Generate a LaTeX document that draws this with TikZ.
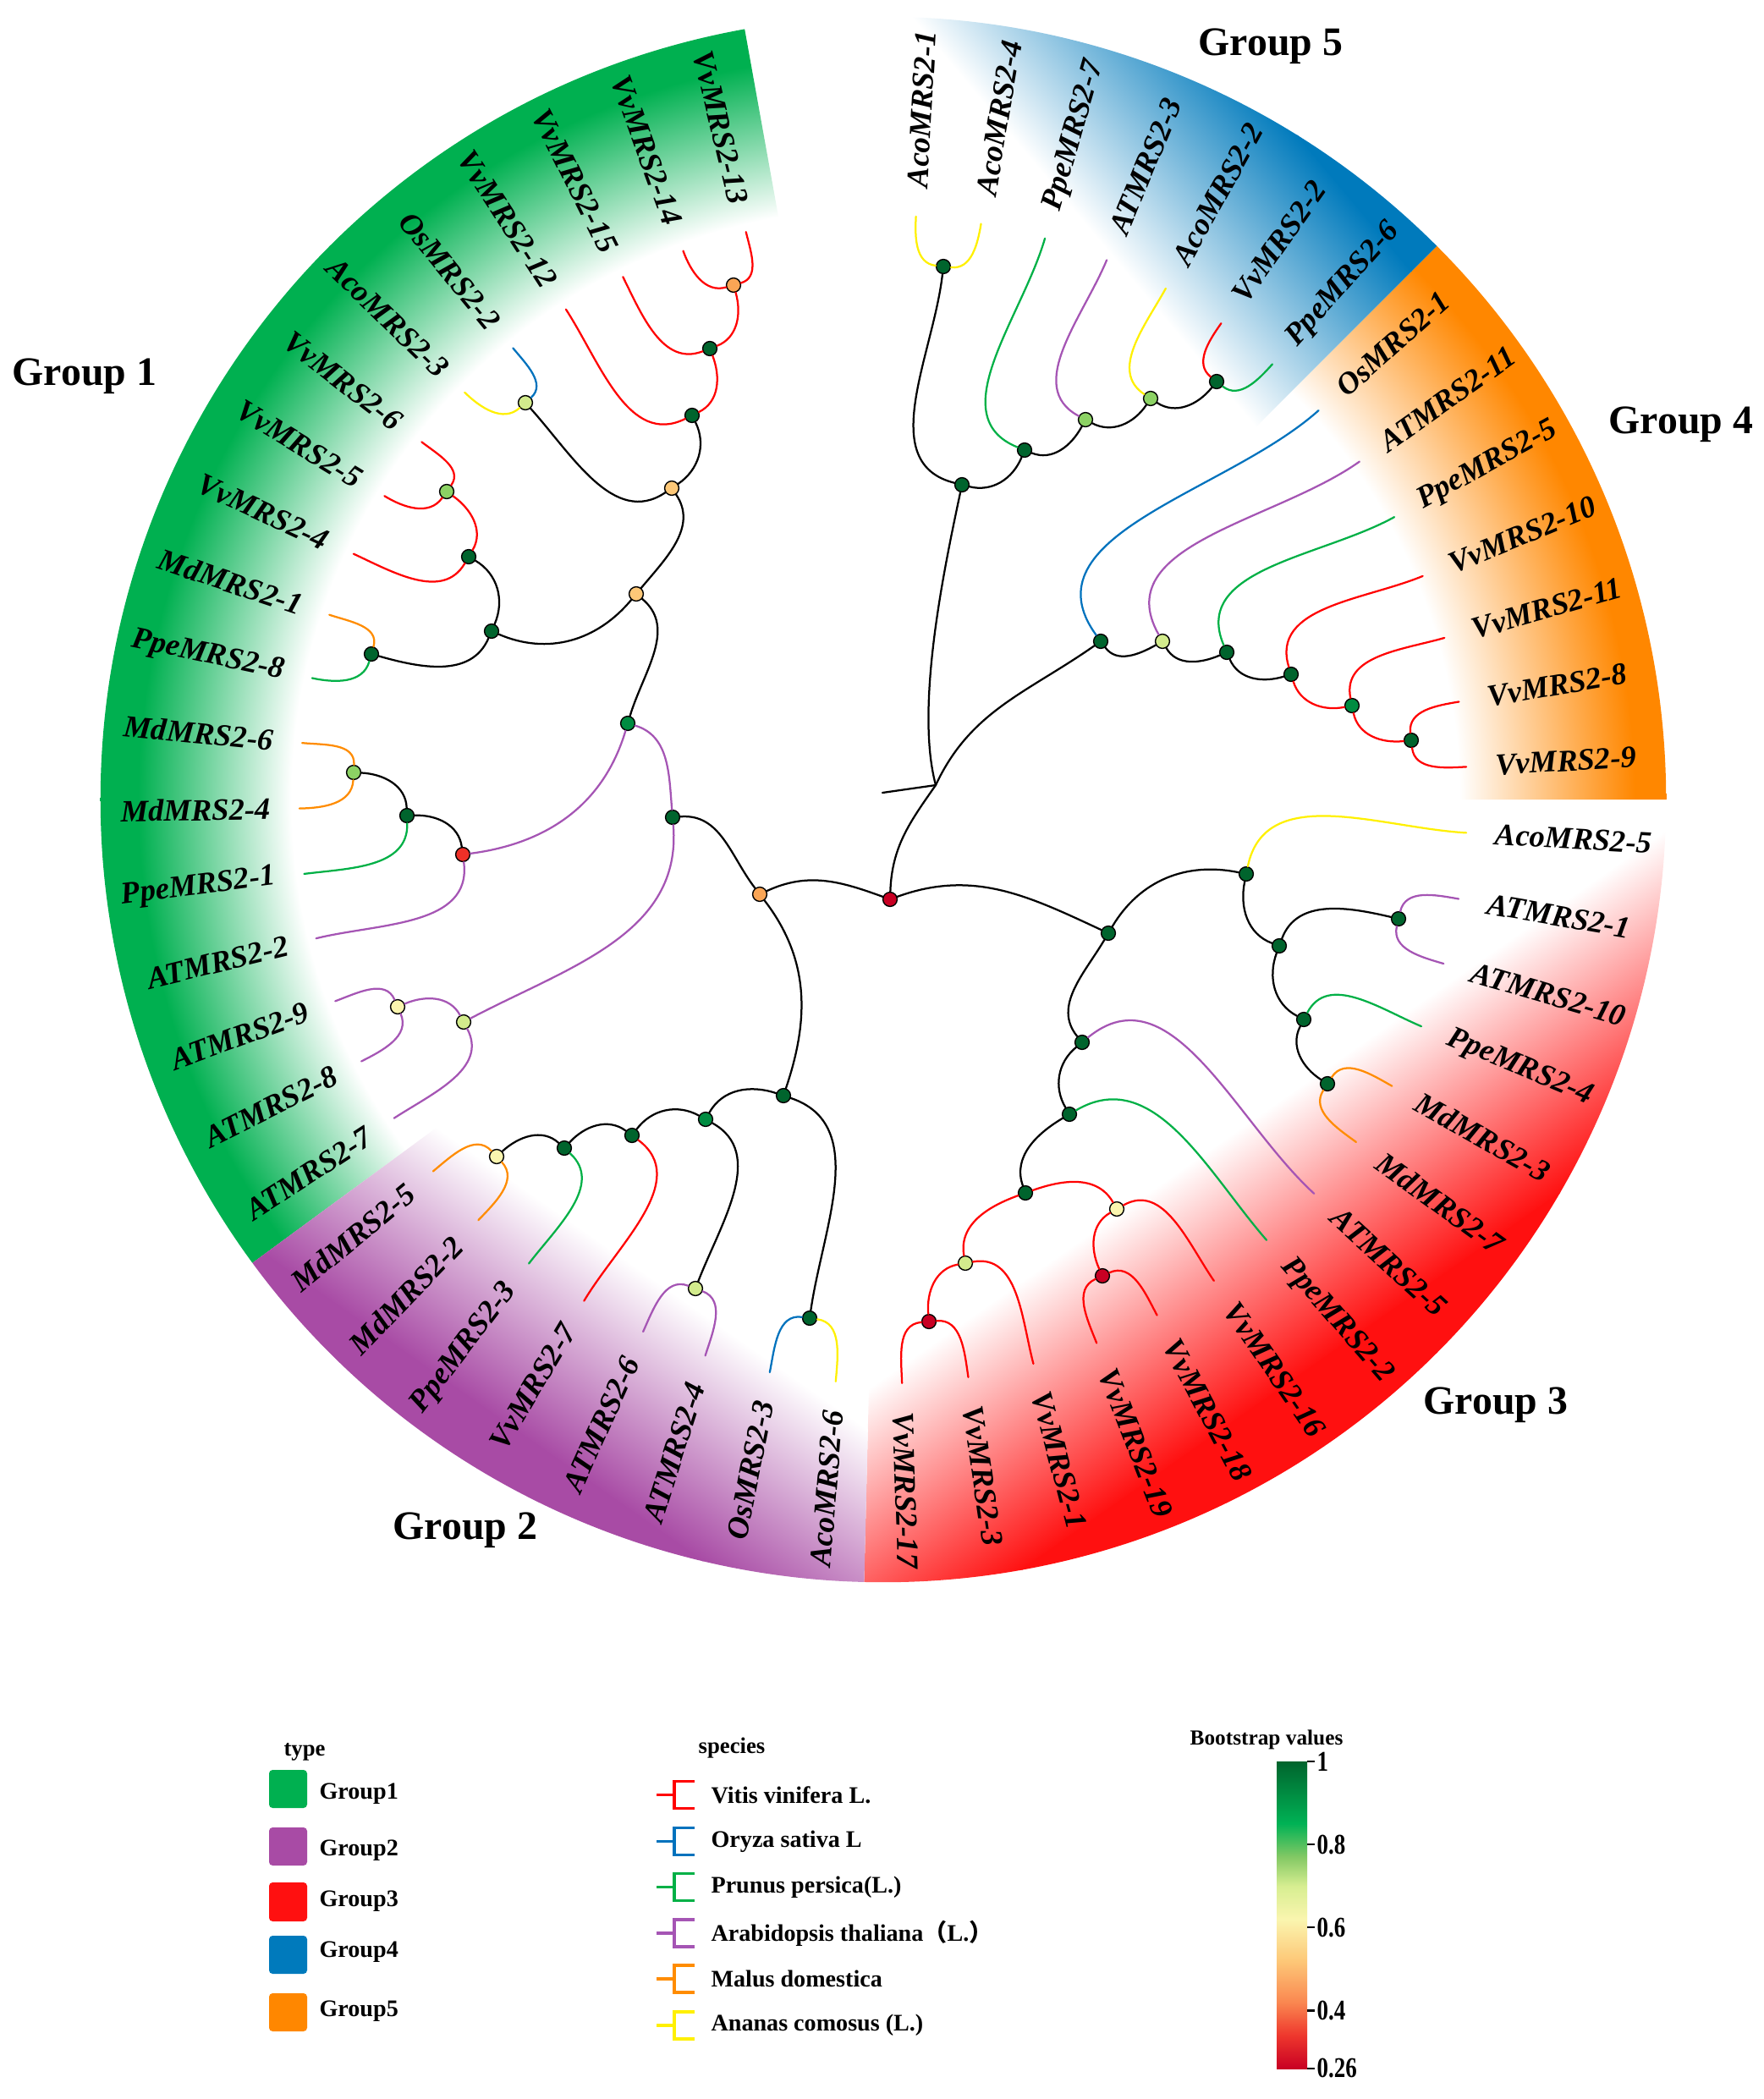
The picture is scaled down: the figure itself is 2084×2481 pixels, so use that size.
\documentclass[tikz,border=0pt]{standalone}
\usepackage{fontspec}
\setmainfont{Liberation Serif}
\newfontfamily\tickfont[FakeStretch=0.8]{Liberation Serif}
\newfontfamily\cjkfont{Noto Sans CJK SC}
\usetikzlibrary{calc,positioning}

% group colours
\definecolor{grpgreen}{RGB}{0,176,80}
\definecolor{grppurple}{RGB}{168,75,165}
\definecolor{grpred}{RGB}{255,16,16}
\definecolor{grpblue}{RGB}{0,122,188}
\definecolor{grporange}{RGB}{255,135,0}
% species colours
\definecolor{vvred}{RGB}{255,0,0}
\definecolor{osblue}{RGB}{0,114,189}
\definecolor{ppegreen}{RGB}{0,176,70}
\definecolor{atpurple}{RGB}{165,85,180}
\definecolor{mdorange}{RGB}{255,140,0}
\definecolor{acoyellow}{RGB}{255,240,0}
% bootstrap colours
\definecolor{bsdkgreen}{RGB}{0,100,45}
\definecolor{bsgreen}{RGB}{0,140,65}
\definecolor{bsltgreen}{RGB}{140,210,100}
\definecolor{bspale}{RGB}{210,235,140}
\definecolor{bsyellow}{RGB}{250,245,175}
\definecolor{bsltorange}{RGB}{253,200,120}
\definecolor{bsorange}{RGB}{250,165,85}
\definecolor{bsred}{RGB}{238,48,40}
\definecolor{bsdkred}{RGB}{200,0,35}
\definecolor{cbB}{RGB}{238,55,45}
\definecolor{cbC}{RGB}{250,135,80}
\definecolor{cbF}{RGB}{215,238,145}
\definecolor{cbG}{RGB}{130,200,100}
\definecolor{cbH}{RGB}{0,178,85}

\pgfdeclareradialshading{ringgreen}{\pgfpoint{0bp}{0bp}}{color(0bp)=(white); color(18.9bp)=(white); color(23.8bp)=(grpgreen); color(50bp)=(grpgreen)}
\pgfdeclareradialshading{ringorange}{\pgfpoint{0bp}{0bp}}{color(0bp)=(white); color(18.4bp)=(white); color(24bp)=(grporange); color(50bp)=(grporange)}
\pgfdeclareverticalshading{bootbar}{100bp}{color(0bp)=(bsdkred); color(25bp)=(bsdkred); color(30.4bp)=(cbB); color(35.8bp)=(cbC); color(42.6bp)=(bsltorange); color(49.3bp)=(bsyellow); color(54.7bp)=(cbF); color(59.5bp)=(cbG); color(64.9bp)=(cbH); color(75bp)=(bsdkgreen); color(100bp)=(bsdkgreen)}

% branch from parent to child: leaves tangentially, arrives radially
\newcommand\branchto[3][black]{%
  \draw[branch,#1] let \p1=($(#2)-(ctr)$), \p2=($(#3)-(ctr)$),
    \n1={atan2(\y1,\x1)}, \n2={atan2(\y2,\x2)},
    \n3={\n1+((((\x1/100)*(\y2/100)-(\y1/100)*(\x2/100))>0)*180)-90},
    \n4={\n2+180} in
    (#2) to[out=\n3,in=\n4] (#3);}

% ring sector with a straight colour ramp (start, end, colour, direction, white at, full at)
\newcommand\linsector[6]{%
  \begin{scope}
    \clip (ctr) -- ($(ctr)+(#1:11.5625cm)$) arc[start angle=#1,end angle=#2,radius=11.5625cm] -- cycle;
    \begin{scope}[transform canvas={rotate around={#4:(ctr)}}]
      \shade[left color=white,right color=#3] ($(ctr)+(#5,-12cm)$) rectangle ($(ctr)+(#6,12cm)$);
      \fill[#3] ($(ctr)+(#6-0.01cm,-12cm)$) rectangle ($(ctr)+(12cm,12cm)$);
    \end{scope}
  \end{scope}}

\begin{document}
\begin{tikzpicture}[x=0.0125cm,y=-0.0125cm]

\tikzset{branch/.style={line width=0.8pt,line cap=round},
bsdot/.style={circle,draw=black,line width=0.5pt,inner sep=0pt,minimum size=0.21cm,fill=#1},
leaflab/.style={font=\fontsize{13pt}{15pt}\selectfont\bfseries\itshape,inner sep=0pt},
grouplab/.style={font=\fontsize{17pt}{20pt}\selectfont\bfseries,inner sep=0pt},
legtitle/.style={font=\bfseries\fontsize{9.5pt}{11pt}\selectfont,inner sep=0pt},
legtext/.style={font=\bfseries\fontsize{10pt}{12pt}\selectfont,inner sep=0pt,anchor=west},
ticklab/.style={font=\tickfont\bfseries\fontsize{12pt}{14pt}\selectfont,inner sep=0pt,anchor=west}}

\useasboundingbox (0,0) rectangle (2084,2481);
\coordinate (ctr) at (1044,945);

% Ring sectors
\begin{scope}
  \clip (ctr) -- ($(ctr)+(100.2:11.5625cm)$) arc[start angle=100.2,end angle=216.3,radius=11.5625cm] -- cycle;
  \shade[shading=ringgreen] (ctr) circle[radius=11.5625cm];
\end{scope}
\begin{scope}
  \clip (ctr) -- ($(ctr)+(0:11.5625cm)$) arc[start angle=0,end angle=45,radius=11.5625cm] -- cycle;
  \shade[shading=ringorange] (ctr) circle[radius=11.5625cm];
\end{scope}
\linsector{45}{90}{grpblue}{40}{7.75cm}{11cm}
\linsector{-91.4}{0}{grpred}{-55}{7cm}{10.5cm}
\linsector{-143.7}{-91.4}{grppurple}{-125}{7.75cm}{10.75cm}

% Leaf tips and labels, right half
\foreach \ang/\lf in {86.79/AcoMRS2-1,80.36/AcoMRS2-4,73.93/PpeMRS2-7,67.5/ATMRS2-3,61.07/AcoMRS2-2,54.64/VvMRS2-2,48.21/PpeMRS2-6,
  41.79/OsMRS2-1,35.36/ATMRS2-11,28.93/PpeMRS2-5,22.5/VvMRS2-10,16.07/VvMRS2-11,9.64/VvMRS2-8,3.21/VvMRS2-9,
  -3.27/AcoMRS2-5,-9.8/ATMRS2-1,-16.33/ATMRS2-10,-22.86/PpeMRS2-4,-29.39/MdMRS2-3,-35.92/MdMRS2-7,-42.45/ATMRS2-5,
  -48.98/PpeMRS2-2,-55.51/VvMRS2-16,-62.04/VvMRS2-18,-68.57/VvMRS2-19,-75.1/VvMRS2-1,-81.63/VvMRS2-3,-88.16/VvMRS2-17}
{
  \coordinate (\lf) at ($(ctr)+(\ang:8.625cm)$);
  \node[leaflab,anchor=west,rotate=\ang] (lab\lf) at ($(ctr)+(\ang:9.05cm)$) {\lf};
}
% Leaf tips and labels, left half
\foreach \ang/\lf in {-94.67/AcoMRS2-6,-101.21/OsMRS2-3,-107.75/ATMRS2-4,-114.29/ATMRS2-6,-120.83/VvMRS2-7,-127.37/PpeMRS2-3,-133.91/MdMRS2-2,-140.45/MdMRS2-5,
  -146.92/ATMRS2-7,-153.36/ATMRS2-8,-159.8/ATMRS2-9,-166.24/ATMRS2-2,-172.68/PpeMRS2-1,-179.12/MdMRS2-4,-185.56/MdMRS2-6,-192/PpeMRS2-8,-198.44/MdMRS2-1,
  -204.88/VvMRS2-4,-211.32/VvMRS2-5,-217.76/VvMRS2-6,-224.2/AcoMRS2-3,-230.64/OsMRS2-2,-237.08/VvMRS2-12,-243.52/VvMRS2-15,-249.96/VvMRS2-14,-256.4/VvMRS2-13}
{
  \coordinate (\lf) at ($(ctr)+(\ang:8.625cm)$);
  \node[leaflab,anchor=east,rotate=\ang+180] (lab\lf) at ($(ctr)+(\ang:9.05cm)$) {\lf};
}

% Group names
\node[grouplab] (g1) at (100,445) {Group 1};
\node[grouplab] (g2) at (550,1809) {Group 2};
\node[grouplab] (g3) at (1768,1661) {Group 3};
\node[grouplab] (g4) at (1987,502) {Group 4};
\node[grouplab] (g5) at (1502,55) {Group 5};

% Internal nodes (bootstrap)
\node[bsdot=bsdkred] (r0) at (1052,1063) {};
\coordinate (nJ) at (1106,928);
\coordinate (stub) at (1043,937);
\node[bsdot=bsorange] (nA) at (898,1057) {};
\node[bsdot=bsdkgreen] (n1) at (795,966) {};
\node[bsdot=bsgreen] (n1a) at (742,855) {};
\node[bsdot=bsltorange] (nG1) at (752,702) {};
\node[bsdot=bsltorange] (nG1a) at (794,577) {};
\node[bsdot=bspale] (nOs) at (621,476) {};
\node[bsdot=bsdkgreen] (nVv12) at (818,491) {};
\node[bsdot=bsdkgreen] (nVv15) at (839,412) {};
\node[bsdot=bsorange] (nVv13) at (867,337) {};
\node[bsdot=bsdkgreen] (nG1b) at (581,746) {};
\node[bsdot=bsdkgreen] (nVv4) at (554,658) {};
\node[bsdot=bsltgreen] (nVv5) at (528,581) {};
\node[bsdot=bsdkgreen] (nMd1) at (439,773) {};
\node[bsdot=bsred] (nRed) at (547,1010) {};
\node[bsdot=bsdkgreen] (nPpe1) at (481,964) {};
\node[bsdot=bsltgreen] (nMd4) at (418,913) {};
\node[bsdot=bspale] (nAT) at (548,1208) {};
\node[bsdot=bsyellow] (nAT9) at (470,1190) {};
\node[bsdot=bsdkgreen] (n2) at (926,1295) {};
\node[bsdot=bsgreen] (n2a) at (834,1323) {};
\node[bsdot=bsdkgreen] (n2b) at (747,1342) {};
\node[bsdot=bsdkgreen] (n2c) at (667,1357) {};
\node[bsdot=bsyellow] (nMd5) at (587,1367) {};
\node[bsdot=bspale] (nAT4) at (822,1523) {};
\node[bsdot=bsdkgreen] (nOs3) at (957,1558) {};
\node[bsdot=bsdkgreen] (nG5) at (1137,573) {};
\node[bsdot=bsdkgreen] (nAco1) at (1115,315) {};
\node[bsdot=bsdkgreen] (nG5b) at (1211,532) {};
\node[bsdot=bsltgreen] (nG5c) at (1283,496) {};
\node[bsdot=bsltgreen] (nG5d) at (1360,471) {};
\node[bsdot=bsdkgreen] (nG5e) at (1438,451) {};
\node[bsdot=bsdkgreen] (nG4) at (1301,758) {};
\node[bsdot=bspale] (nG4b) at (1374,758) {};
\node[bsdot=bsdkgreen] (nG4c) at (1450,771) {};
\node[bsdot=bsdkgreen] (nG4d) at (1526,797) {};
\node[bsdot=bsgreen] (nG4e) at (1598,834) {};
\node[bsdot=bsdkgreen] (nG4f) at (1668,875) {};
\node[bsdot=bsdkgreen] (nG3) at (1310,1103) {};
\node[bsdot=bsdkgreen] (nAco5) at (1473,1033) {};
\node[bsdot=bsdkgreen] (nG3c) at (1512,1118) {};
\node[bsdot=bsdkgreen] (nAT1) at (1653,1086) {};
\node[bsdot=bsdkgreen] (nPpe4) at (1541,1205) {};
\node[bsdot=bsdkgreen] (nMd3) at (1569,1281) {};
\node[bsdot=bsdkgreen] (nG3b) at (1279,1232) {};
\node[bsdot=bsdkgreen] (nPpe2) at (1264,1317) {};
\node[bsdot=bsdkgreen] (nVv) at (1212,1410) {};
\node[bsdot=bsyellow] (nVv16) at (1320,1429) {};
\node[bsdot=bsdkred] (nVv18) at (1303,1508) {};
\node[bsdot=bspale] (nVv1) at (1141,1493) {};
\node[bsdot=bsdkred] (nVv3) at (1098,1562) {};

% Root edges
\draw[branch] (r0) to[out=160,in=25] (nA);
\draw[branch] (r0) to[out=20,in=155] (nG3);
\draw[branch] (r0) to[out=88,in=235] (nJ);
\draw[branch] (nJ) -- (stub);
\draw[branch] (nJ) to[out=105,in=258,looseness=0.7] (nG5);
\draw[branch] (nJ) to[out=65,in=215] (nG4);

% Group 1
\branchto{nA}{n1}
\branchto{nA}{n2}
\branchto[atpurple]{n1}{n1a}
\branchto[atpurple]{n1}{nAT}
\branchto{n1a}{nG1}
\branchto[atpurple]{n1a}{nRed}
\branchto{nG1}{nG1a}
\branchto{nG1}{nG1b}
\branchto{nG1a}{nOs}
\branchto{nG1a}{nVv12}
\branchto[acoyellow]{nOs}{AcoMRS2-3}
\branchto[osblue]{nOs}{OsMRS2-2}
\branchto[vvred]{nVv12}{VvMRS2-12}
\branchto[vvred]{nVv12}{nVv15}
\branchto[vvred]{nVv15}{VvMRS2-15}
\branchto[vvred]{nVv15}{nVv13}
\branchto[vvred]{nVv13}{VvMRS2-14}
\branchto[vvred]{nVv13}{VvMRS2-13}
\branchto{nG1b}{nVv4}
\branchto{nG1b}{nMd1}
\branchto[vvred]{nVv4}{VvMRS2-4}
\branchto[vvred]{nVv4}{nVv5}
\branchto[vvred]{nVv5}{VvMRS2-5}
\branchto[vvred]{nVv5}{VvMRS2-6}
\branchto[mdorange]{nMd1}{MdMRS2-1}
\branchto[ppegreen]{nMd1}{PpeMRS2-8}
\branchto{nRed}{nPpe1}
\branchto[atpurple]{nRed}{ATMRS2-2}
\branchto{nPpe1}{nMd4}
\branchto[ppegreen]{nPpe1}{PpeMRS2-1}
\branchto[mdorange]{nMd4}{MdMRS2-6}
\branchto[mdorange]{nMd4}{MdMRS2-4}
\branchto[atpurple]{nAT}{nAT9}
\branchto[atpurple]{nAT}{ATMRS2-7}
\branchto[atpurple]{nAT9}{ATMRS2-9}
\branchto[atpurple]{nAT9}{ATMRS2-8}

% Group 2
\branchto{n2}{n2a}
\branchto{n2}{nOs3}
\branchto{n2a}{n2b}
\branchto{n2a}{nAT4}
\branchto{n2b}{n2c}
\branchto[vvred]{n2b}{VvMRS2-7}
\branchto{n2c}{nMd5}
\branchto[ppegreen]{n2c}{PpeMRS2-3}
\branchto[mdorange]{nMd5}{MdMRS2-5}
\branchto[mdorange]{nMd5}{MdMRS2-2}
\branchto[atpurple]{nAT4}{ATMRS2-6}
\branchto[atpurple]{nAT4}{ATMRS2-4}
\branchto[osblue]{nOs3}{OsMRS2-3}
\branchto[acoyellow]{nOs3}{AcoMRS2-6}

% Group 5
\branchto{nG5}{nAco1}
\branchto{nG5}{nG5b}
\branchto[acoyellow]{nAco1}{AcoMRS2-1}
\branchto[acoyellow]{nAco1}{AcoMRS2-4}
\branchto[ppegreen]{nG5b}{PpeMRS2-7}
\branchto{nG5b}{nG5c}
\branchto[atpurple]{nG5c}{ATMRS2-3}
\branchto{nG5c}{nG5d}
\branchto[acoyellow]{nG5d}{AcoMRS2-2}
\branchto{nG5d}{nG5e}
\branchto[vvred]{nG5e}{VvMRS2-2}
\branchto[ppegreen]{nG5e}{PpeMRS2-6}

% Group 4
\branchto[osblue]{nG4}{OsMRS2-1}
\branchto{nG4}{nG4b}
\branchto[atpurple]{nG4b}{ATMRS2-11}
\branchto{nG4b}{nG4c}
\branchto[ppegreen]{nG4c}{PpeMRS2-5}
\branchto{nG4c}{nG4d}
\branchto[vvred]{nG4d}{VvMRS2-10}
\branchto[vvred]{nG4d}{nG4e}
\branchto[vvred]{nG4e}{VvMRS2-11}
\branchto[vvred]{nG4e}{nG4f}
\branchto[vvred]{nG4f}{VvMRS2-8}
\branchto[vvred]{nG4f}{VvMRS2-9}

% Group 3
\branchto{nG3}{nAco5}
\branchto{nG3}{nG3b}
\branchto[acoyellow]{nAco5}{AcoMRS2-5}
\branchto{nAco5}{nG3c}
\branchto{nG3c}{nAT1}
\branchto{nG3c}{nPpe4}
\branchto[atpurple]{nAT1}{ATMRS2-1}
\branchto[atpurple]{nAT1}{ATMRS2-10}
\branchto[ppegreen]{nPpe4}{PpeMRS2-4}
\branchto{nPpe4}{nMd3}
\branchto[mdorange]{nMd3}{MdMRS2-3}
\branchto[mdorange]{nMd3}{MdMRS2-7}
\branchto[atpurple]{nG3b}{ATMRS2-5}
\branchto{nG3b}{nPpe2}
\branchto[ppegreen]{nPpe2}{PpeMRS2-2}
\branchto{nPpe2}{nVv}
\branchto[vvred]{nVv}{nVv16}
\branchto[vvred]{nVv}{nVv1}
\branchto[vvred]{nVv16}{VvMRS2-16}
\branchto[vvred]{nVv16}{nVv18}
\branchto[vvred]{nVv18}{VvMRS2-18}
\branchto[vvred]{nVv18}{VvMRS2-19}
\branchto[vvred]{nVv1}{VvMRS2-1}
\branchto[vvred]{nVv1}{nVv3}
\branchto[vvred]{nVv3}{VvMRS2-3}
\branchto[vvred]{nVv3}{VvMRS2-17}

% Legend: type
\node[legtitle] (typetitle) at (360,2071) {type};
\foreach \col/\ya/\yb/\yt/\g [count=\i] in {grpgreen/2092/2137/2120/Group1,grppurple/2160/2205/2187/Group2,
  grpred/2225/2271/2247/Group3,grpblue/2288/2333/2307/Group4,grporange/2356/2401/2377/Group5}
{
  \fill[\col,rounded corners=1.5pt] (318,\ya) rectangle (363,\yb);
  \node[legtext] (type\i) at (377,\yt) {\g};
}

% Legend: species
\node[legtitle] (sptitle) at (865,2066) {species};
\foreach \col/\y/\s [count=\i] in {vvred/2121.7/{Vitis vinifera L.},osblue/2176.7/{Oryza sativa L},
  ppegreen/2230.7/{Prunus persica(L.)},atpurple/2285/{Arabidopsis thaliana{\cjkfont （}L.{\cjkfont ）}},
  mdorange/2339/{Malus domestica},acoyellow/2394/{Ananas comosus (L.)}}
{
  \draw[\col,line width=1.1pt] (776,\y) -- (797,\y) (821,\y-16) -- (797,\y-16) -- (797,\y+16) -- (821,\y+16);
  \node[legtext] (sp\i) at (840,\y) {\s};
}

% Legend: bootstrap colour bar
\node[font=\bfseries\fontsize{9pt}{10pt}\selectfont,inner sep=0pt] (bstitle) at (1497,2056) {Bootstrap values};
\shade[shading=bootbar] (1509,2082) rectangle (1545,2445);
\foreach \v/\t [count=\i] in {1/1,0.8/0.8,0.6/0.6,0.4/0.4,0.26/0.26}
{
  \draw[line width=0.9pt] (1545,{2082+(1-\v)*490.5}) -- ++(9,0);
  \node[ticklab] (tick\i) at (1556,{2082+(1-\v)*490.5}) {\t};
}

\end{tikzpicture}
\end{document}
